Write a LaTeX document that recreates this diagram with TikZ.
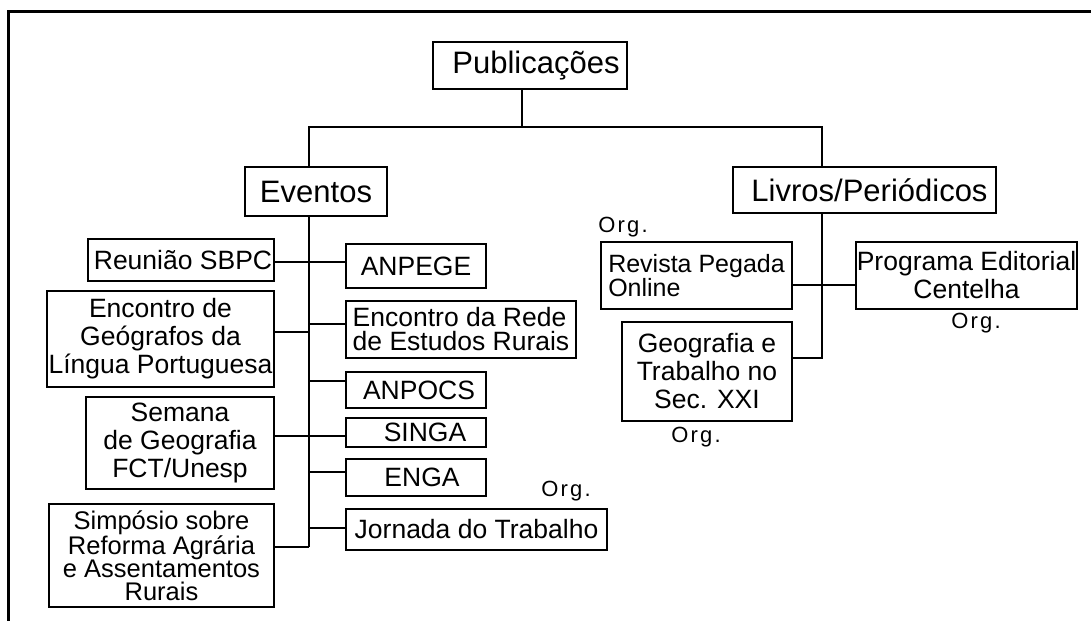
\documentclass[tikz,border=0pt]{standalone}
\usepackage{fontspec}
\setmainfont{Liberation Sans}
\newfontfamily\orgfont[LetterSpace=10]{Liberation Sans}
\usetikzlibrary{positioning,calc}

\tikzset{
  box/.style={rectangle, draw=black, line width=2.5pt, inner sep=0pt, align=center,
              font=\fontsize{26.5}{28}\selectfont},
  headbox/.style={box, font=\fontsize{31}{34}\selectfont},
  orglabel/.style={inner sep=0pt, font=\orgfont\fontsize{22}{24}\selectfont},
  link/.style={line width=2.5pt}
}

\begin{document}
\begin{tikzpicture}[x=1pt, y=-1pt]
    \useasboundingbox (0,0) rectangle (1091,621);
    % moldura
    \draw[line width=3pt] (1091,11) -- (8,11) -- (8,621);

    % topo
    \node[headbox, minimum width=194pt, minimum height=47pt] (pub) at (530,65.5) {\hspace{12pt}Publicações};
    \node[headbox, minimum width=142pt, minimum height=49pt] (eventos) at (316,191.5) {Eventos};
    \node[headbox, minimum width=263pt, minimum height=46pt] (livros) at (864.5,190) {\hspace{10pt}Livros/Periódicos};

    \coordinate (split) at (522,127);
    \coordinate (evtrunk) at (309,547);
    \coordinate (lvtrunk) at (822,358);

    % eventos, lado esquerdo
    \node[box, minimum width=186pt, minimum height=42pt] (sbpc) at (181,260) {\hspace{4pt}Reunião SBPC};
    \node[box, minimum width=227pt, minimum height=96pt] (geog) at (160.5,339)
        {Encontro de\\Geógrafos da\\Língua Portuguesa};
    \node[box, minimum width=188pt, minimum height=92pt] (semana) at (180,443)
        {Semana\\de Geografia\\FCT/Unesp};
    \node[box, minimum width=225pt, minimum height=103pt, font=\fontsize{25.5}{23}\selectfont] (simp) at (161.5,555.5)
        {Simpósio sobre\\Reforma Agrária\\e Assentamentos\\Rurais};

    % eventos, lado direito
    \node[box, minimum width=140pt, minimum height=44pt] (anpege) at (416,266) {ANPEGE};
    \node[box, minimum width=230pt, minimum height=57pt, align=left, font=\fontsize{26.5}{24}\selectfont] (rede) at (461,329.5)
        {Encontro da Rede\\de Estudos Rurais};
    \node[box, minimum width=140pt, minimum height=36pt] (anpocs) at (416,390) {\hspace{6pt}ANPOCS};
    \node[box, minimum width=140pt, minimum height=29pt] (singa) at (416,432.5) {\hspace{18pt}SINGA};
    \node[box, minimum width=140pt, minimum height=37pt] (enga) at (416,477.5) {\hspace{12pt}ENGA};
    \node[box, minimum width=261pt, minimum height=41pt] (jornada) at (476.5,529.5) {Jornada do Trabalho};
    \node[orglabel] (orgjornada) at (566,491) {Org.};

    % livros/periodicos
    \node[box, minimum width=191pt, minimum height=67pt, align=left, font=\fontsize{25}{23}\selectfont] (revista) at (696.5,275.5)
        {Revista Pegada\\Online};
    \node[box, minimum width=221pt, minimum height=67pt] (programa) at (966.5,275.5)
        {Programa Editorial\\Centelha};
    \node[box, minimum width=170pt, minimum height=99pt] (geotrab) at (707,371.5)
        {Geografia e\\Trabalho no\\Sec. XXI};
    \node[orglabel] (orgrevista) at (623,227) {Org.};
    \node[orglabel] (orgprograma) at (976,323) {Org.};
    \node[orglabel] (orggeotrab) at (696,437) {Org.};

    % ligacoes
    \draw[link] (pub.south -| split) -- (split);
    \draw[link] (eventos.north -| evtrunk) -- (evtrunk |- split) -- (lvtrunk |- split) -- (livros.north -| lvtrunk);
    \draw[link] (eventos.south -| evtrunk) -- (evtrunk);
    \draw[link] ([yshift=-2pt]sbpc.east) -- ([yshift=-2pt]sbpc.east -| anpege.west);
    \foreach \n/\s in {geog/7, semana/7, simp/8.5}
        \draw[link] ([yshift=\s pt]\n.east) -- ([yshift=\s pt]\n.east -| evtrunk);
    \foreach \n/\s in {rede/5.5, anpocs/9, singa/-3.5, enga/5.5, jornada/1.5}
        \draw[link] ([yshift=\s pt]\n.west -| evtrunk) -- ([yshift=\s pt]\n.west);
    \draw[link] (livros.south -| lvtrunk) -- (lvtrunk) -- (lvtrunk -| geotrab.east);
    \draw[link] ([yshift=-9.5pt]revista.east) -- ([yshift=-9.5pt]programa.west);
\end{tikzpicture}
\end{document}
